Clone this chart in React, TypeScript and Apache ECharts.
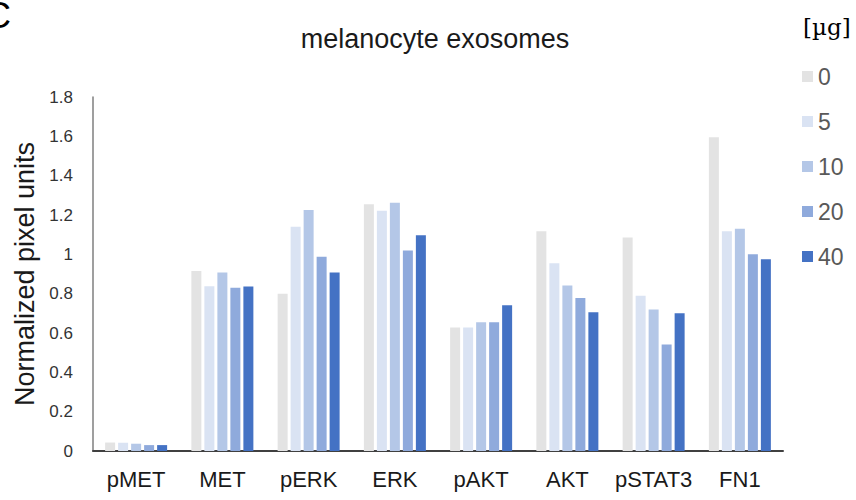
import React, { useEffect, useRef } from "react";
import * as echarts from "echarts";

const categories = ["pMET", "MET", "pERK", "ERK", "pAKT", "AKT", "pSTAT3", "FN1"];
const doseLabels = ["0", "5", "10", "20", "40"];
const dose0 = [0.043, 0.915, 0.8, 1.255, 0.628, 1.117, 1.085, 1.595];
const dose5 = [0.042, 0.838, 1.14, 1.222, 0.628, 0.955, 0.79, 1.117];
const dose10 = [0.037, 0.908, 1.225, 1.262, 0.655, 0.842, 0.72, 1.13];
const dose20 = [0.03, 0.83, 0.988, 1.02, 0.655, 0.778, 0.542, 1.0];
const dose40 = [0.03, 0.837, 0.908, 1.097, 0.741, 0.705, 0.7, 0.975];
const colors = ["#e3e3e3", "#dae3f3", "#b4c7e7", "#8faadc", "#4472c4"];

export default function App() {
  const ref = useRef<HTMLDivElement>(null);
  useEffect(() => {
    if (!ref.current) return;
    const chart = echarts.init(ref.current, undefined, { renderer: "svg" });
    const seriesData = [dose0, dose5, dose10, dose20, dose40];
    const font = "'Liberation Sans', Arial, sans-serif";
    chart.setOption({
      animation: false,
      textStyle: { fontFamily: font },
      title: {
        text: "melanocyte exosomes",
        left: 430,
        top: 20,
        textAlign: "center",
        textStyle: { fontSize: 27, fontWeight: "normal", color: "#1a1a1a", fontFamily: font },
      },
      legend: {
        orient: "vertical",
        left: 797,
        top: 60,
        itemWidth: 11,
        itemHeight: 11,
        itemGap: 22,
        icon: "rect",
        data: doseLabels,
        textStyle: { fontSize: 23, lineHeight: 23, color: "#595959", fontFamily: font },
      },
      graphic: [
        {
          type: "text",
          left: -15,
          top: -3,
          style: { text: "C", fontSize: 36, fill: "#000", fontFamily: font },
        },
        {
          type: "text",
          left: 803,
          top: 15,
          style: { text: "[µg]", fontSize: 23, fill: "#000", fontFamily: "'DejaVu Serif', 'Liberation Serif', serif" },
        },
      ],
      grid: { left: 93, right: 73, top: 97, bottom: 49 },
      xAxis: {
        type: "category",
        data: categories,
        axisLine: { lineStyle: { color: "#404040", width: 2 } },
        axisTick: { show: false },
        axisLabel: { interval: 0, fontSize: 22, color: "#1a1a1a", margin: 17, fontFamily: font },
      },
      yAxis: {
        type: "value",
        min: 0,
        max: 1.8,
        interval: 0.2,
        name: "Normalized pixel units",
        nameLocation: "middle",
        nameGap: 53,
        nameTextStyle: { fontSize: 27, color: "#1a1a1a", fontFamily: font },
        axisLine: { show: true, lineStyle: { color: "#7f7f7f", width: 1.5 } },
        axisTick: { show: false },
        splitLine: { show: false },
        axisLabel: {
          fontSize: 17,
          color: "#333",
          margin: 20,
          fontFamily: font,
          formatter: (v: number) => String(Math.round(v * 10) / 10),
        },
      },
      series: seriesData.map((d, i) => ({
        name: doseLabels[i],
        type: "bar",
        data: d,
        barWidth: 10,
        barGap: "30%",
        itemStyle: { color: colors[i] },
      })),
    });
    return () => chart.dispose();
  }, []);
  return (
    <div
      ref={ref}
      style={{ position: "absolute", left: 0, top: 0, width: 856, height: 500 }}
    />
  );
}
